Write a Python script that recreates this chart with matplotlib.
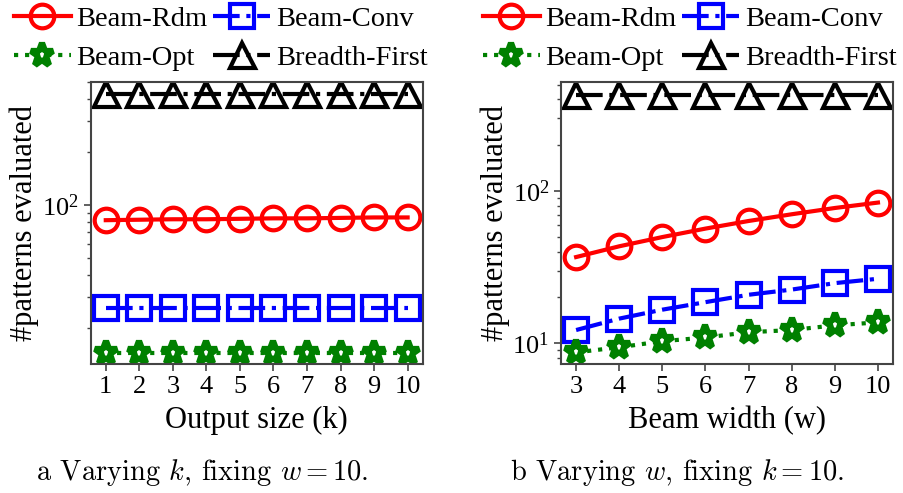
import matplotlib
matplotlib.use('Agg')
import matplotlib.pyplot as plt

# data
k_values = [1, 2, 3, 4, 5, 6, 7, 8, 9, 10]
w_values = [3, 4, 5, 6, 7, 8, 9, 10]

# varying k, w = 10
rdm_k = [82, 82.5, 83, 83, 83.5, 84, 84, 84.5, 85, 85]
conv_k = [26, 26, 26, 26, 26, 26, 26, 26, 26, 26]
opt_k = [14.5, 14.5, 14.5, 14.5, 14.5, 14.5, 14.5, 14.5, 14.5, 14.5]
bfs_k = [425, 425, 425, 425, 425, 425, 425, 425, 425, 425]

# varying w, k = 10
rdm_w = [36.8, 43.3, 49.8, 56.6, 63.5, 70.3, 77.3, 83.9]
conv_w = [12.2, 14.5, 16.6, 18.6, 20.8, 22.5, 24.8, 26.5]
opt_w = [8.7, 9.4, 10.3, 10.9, 11.8, 12.2, 13.1, 13.7]
bfs_w = [425, 425, 425, 425, 425, 425, 425, 425]

plt.rcParams['font.family'] = ['Liberation Serif', 'DejaVu Serif']
plt.rcParams['mathtext.fontset'] = 'stix'

styles = {
    'Beam-Rdm': dict(color='red', ls='-', marker='o', mfc='none', ms=17, mew=3),
    'Beam-Conv': dict(color='blue', ls='-.', marker='s', mfc='none', ms=17, mew=3),
    'Beam-Opt': dict(color='green', ls=':', marker='*', mfc='white', ms=17, mew=4.5),
    'Breadth-First': dict(color='black', ls='-.', marker='^', mfc='none', ms=18, mew=3),
}


def draw_panel(ax, x, series, xlabel, ylim):
    lines = {}
    for name, y in series:
        st = styles[name]
        lines[name], = ax.plot(x, y, linestyle=st['ls'], color=st['color'], marker=st['marker'],
                               markerfacecolor=st['mfc'], markeredgecolor=st['color'],
                               markersize=st['ms'], markeredgewidth=st['mew'], linewidth=3,
                               label=name)
    ax.set_yscale('log')
    ax.set_ylim(*ylim)
    ax.set_xticks(x)
    ax.set_xlabel(xlabel, fontsize=22, labelpad=6)
    ax.set_ylabel('#patterns evaluated', fontsize=22, labelpad=2)
    ax.tick_params(axis='both', which='major', labelsize=19, length=5, width=1.2, color='#444444')
    ax.tick_params(axis='y', which='minor', length=3, width=1.0, color='#444444')
    ax.tick_params(axis='y', which='minor', labelleft=False)
    for sp in ax.spines.values():
        sp.set_color('#444444')
        sp.set_linewidth(1.5)
    return lines


fig = plt.figure(figsize=(9.04, 4.93), dpi=100)
ax1 = fig.add_axes([0.1003, 0.2617, 0.3673, 0.572])
ax2 = fig.add_axes([0.6206, 0.2617, 0.3673, 0.572])

lines1 = draw_panel(ax1, k_values, [('Beam-Rdm', rdm_k), ('Beam-Conv', conv_k),
                                    ('Beam-Opt', opt_k), ('Breadth-First', bfs_k)],
                    'Output size (k)', (12.5, 500))
lines2 = draw_panel(ax2, w_values, [('Beam-Rdm', rdm_w), ('Beam-Conv', conv_w),
                                    ('Beam-Opt', opt_w), ('Breadth-First', bfs_w)],
                    'Beam width (w)', (7.3, 520))

# column-major filling: order so rows read Rdm/Conv then Opt/Breadth-First
order = ['Beam-Rdm', 'Beam-Opt', 'Beam-Conv', 'Breadth-First']
for ax, lines, x0 in [(ax1, lines1, 14 / 904), (ax2, lines2, 483 / 904)]:
    ax.legend([lines[n] for n in order], order,
              loc='upper left', bbox_to_anchor=(x0, 0.987), bbox_transform=fig.transFigure,
              ncol=2, frameon=False, fontsize=20.5, handlelength=2.0, handletextpad=0.2,
              columnspacing=0.2, labelspacing=0.45, borderpad=0.0, borderaxespad=0.0)

fig.text(0.2235, 0.0264, 'a Varying $k$, fixing $w = 10$.', family='cmr10',
         math_fontfamily='cm', fontsize=20.5, ha='center', va='baseline')
fig.text(0.749, 0.0264, 'b Varying $w$, fixing $k = 10$.', family='cmr10',
         math_fontfamily='cm', fontsize=20.5, ha='center', va='baseline')

fig.savefig('out.png', dpi=100)
